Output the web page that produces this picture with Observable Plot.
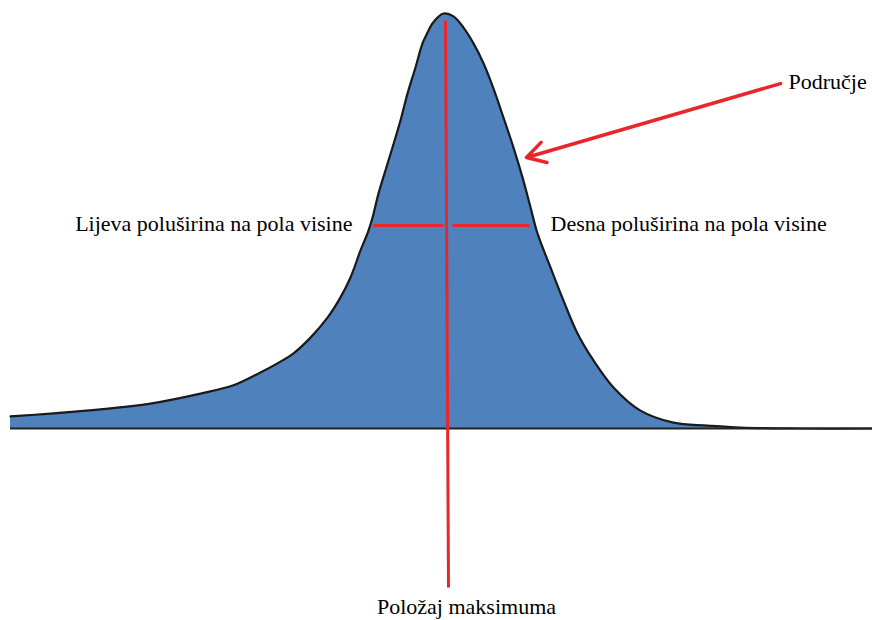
<!DOCTYPE html>
<html>
<head>
<meta charset="utf-8">
<script src="https://cdn.jsdelivr.net/npm/d3@7"></script>
<script src="https://cdn.jsdelivr.net/npm/@observablehq/plot@0.6"></script>
<style>
  html, body { margin: 0; padding: 0; background: #fff; }
  #chart svg { display: block; }
  #chart svg text { font-family: "Liberation Serif", "Times New Roman", Tinos, "DejaVu Serif", serif !important; }
</style>
</head>
<body>
<div id="chart"></div>
<script>
// Peak profile (position, intensity in % of maximum)
const curveX = [0, 4, 9, 14, 19, 22.3, 25.0, 26.7, 28.3, 30.0, 31.7, 33.0, 34.0, 35.0, 35.8, 36.2, 36.8, 37.5, 38.2, 39, 39.7, 40.5, 41.2, 41.7, 42.2, 42.7, 43.3,
                44.3, 45.3, 46.3, 47.3, 48.3, 49.3, 50.3, 51.2, 52, 52.7, 54, 55.3, 56.7, 58.3, 60.3, 63, 66.3, 69.7, 73, 79, 86.2];
const curveY = [2.9, 3.6, 4.6, 6.0, 8.4, 10.4, 13.5, 15.7, 18.1, 21.9, 26.7, 31.6, 36.4, 42.9, 47.7, 50.8, 56.6, 62.2, 67.7, 74.2, 80.7, 87.0, 92.8, 95.4, 97.6, 99.0, 100,
                99.3, 96.6, 92.8, 88.0, 81.9, 74.9, 67.7, 60.5, 53.3, 47.0, 38.8, 30.8, 22.9, 16.4, 9.9, 4.3, 1.4, 0.7, 0.2, 0, 0];

// Annotation values
const peakLine = {x1: 43.5, y1: 98.3, x2: 43.8, y2: -38.3};
const halfHeight = 48.9;
const leftHalf = [36.3, 43.3];
const rightHalf = [44.2, 51.9];
const areaArrow = {x1: 77, y1: 83.1, x2: 51.6, y2: 65.3};

const labelText = ["Lijeva poluširina na pola visine", "Desna poluširina na pola visine", "Područje", "Položaj maksimuma"];
const labelX = [34.2, 54.0, 77.8, 45.6];
const labelY = [49.4, 49.4, 83.4, -42.9];
const labelAnchor = ["end", "start", "start", "middle"];

const curve = curveX.map((x, i) => ({x, y: curveY[i]}));
const halfSegs = [leftHalf, rightHalf].map(([a, b]) => ({x1: a, x2: b, y: halfHeight}));
const labels = labelText.map((t, i) => ({t, x: labelX[i], y: labelY[i], a: labelAnchor[i]}));

const red = "#e8262c";
const serif = "'Liberation Serif', 'Times New Roman', serif";
const textMarks = ["start", "middle", "end"].map(anchor =>
  Plot.text(labels.filter(d => d.a === anchor), {x: "x", y: "y", text: "t", textAnchor: anchor, fontSize: 22, fontFamily: serif, fill: "#000"})
);

const chart = Plot.plot({
  width: 872,
  height: 620,
  marginLeft: 10,
  marginRight: 0,
  marginTop: 13,
  marginBottom: 192,
  x: {domain: [0, 86.2], axis: null},
  y: {domain: [0, 100], axis: null},
  style: {background: "#fff"},
  marks: [
    Plot.areaY(curve, {x: "x", y: "y", fill: "#4f81bd", curve: "catmull-rom"}),
    Plot.lineY(curve, {x: "x", y: "y", stroke: "#1a1a1a", strokeWidth: 2.2, curve: "catmull-rom"}),
    Plot.ruleY([0], {stroke: "#222", strokeWidth: 2.2}),
    Plot.link([peakLine], {x1: "x1", y1: "y1", x2: "x2", y2: "y2", stroke: red, strokeWidth: 3}),
    Plot.link(halfSegs, {x1: "x1", x2: "x2", y1: "y", y2: "y", stroke: red, strokeWidth: 3}),
    Plot.arrow([areaArrow], {x1: "x1", y1: "y1", x2: "x2", y2: "y2", stroke: red, strokeWidth: 3.5, headAngle: 60, headLength: 9}),
    ...textMarks
  ]
});
document.getElementById("chart").appendChild(chart);
</script>
</body>
</html>
